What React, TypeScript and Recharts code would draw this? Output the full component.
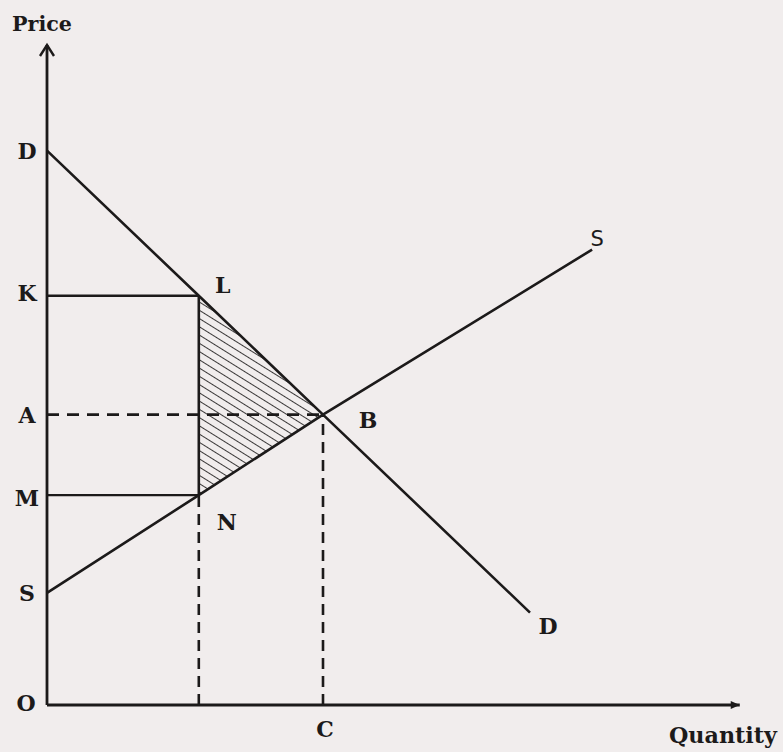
import { ComposedChart, Line, Area, XAxis, YAxis, ReferenceLine, ReferenceDot } from 'recharts';

const quantities = [0, 22, 40, 70, 79];
const demandPrices = [84, 62, 44, 14, null];
const supplyPrices = [17, 31.8, 44, null, 69];
// hatched triangle L-N-B: [low, high] at each quantity
const surplusLow = [null, 31.8, 44, null, null];
const surplusHigh = [null, 62, 44, null, null];

const quotaQty = 22;
const eqQty = 40;
const priceK = 62;
const priceA = 44;
const priceM = 31.8;

const labels = [
  { text: 'Price', q: 0, p: 100, dx: -5, dy: -22, sans: false, fit: 60, size: 21 },
  { text: 'D', q: 0, p: 84, dx: -20, dy: 0, sans: false, fit: 0, size: 22 },
  { text: 'K', q: 0, p: priceK, dx: -20, dy: -3, sans: false, fit: 0, size: 22 },
  { text: 'A', q: 0, p: priceA, dx: -20, dy: 0, sans: false, fit: 0, size: 22 },
  { text: 'M', q: 0, p: priceM, dx: -20, dy: 3, sans: false, fit: 0, size: 22 },
  { text: 'S', q: 0, p: 17, dx: -20, dy: 0, sans: false, fit: 0, size: 22 },
  { text: 'O', q: 0, p: 0, dx: -21, dy: -2, sans: false, fit: 0, size: 22 },
  { text: 'L', q: quotaQty, p: priceK, dx: 24, dy: -11, sans: false, fit: 0, size: 22 },
  { text: 'N', q: quotaQty, p: priceM, dx: 28, dy: 27, sans: false, fit: 0, size: 22 },
  { text: 'B', q: eqQty, p: priceA, dx: 45, dy: 5, sans: false, fit: 0, size: 22 },
  { text: 'C', q: eqQty, p: 0, dx: 2, dy: 24, sans: false, fit: 0, size: 22 },
  { text: 'D', q: 70, p: 14, dx: 18, dy: 13, sans: false, fit: 0, size: 22 },
  { text: 'S', q: 79, p: 69, dx: 5, dy: -11, sans: true, fit: 0, size: 21 },
  { text: 'Quantity', q: 100, p: 0, dx: -14, dy: 30, sans: false, fit: 108, size: 22 },
];

const ink = '#1c1a1a';

const chartData = quantities.map((q, i) => ({
  q,
  demand: demandPrices[i],
  supply: supplyPrices[i],
  band: surplusLow[i] == null ? null : [surplusLow[i], surplusHigh[i]],
}));

const YArrow = (props: any) => {
  const { x1, y1, y2 } = props;
  const top = Math.min(y1, y2);
  const bottom = Math.max(y1, y2);
  return (
    <g>
      <line x1={x1} y1={bottom} x2={x1} y2={top} stroke={ink} strokeWidth={2.8} />
      <path d={`M${x1 - 7},${top + 11} L${x1},${top} L${x1 + 7},${top + 11}`} fill="none" stroke={ink} strokeWidth={2.4} />
    </g>
  );
};

const XArrow = (props: any) => {
  const { x1, y1, x2 } = props;
  const right = Math.max(x1, x2);
  return (
    <g>
      <line x1={Math.min(x1, x2)} y1={y1} x2={right} y2={y1} stroke={ink} strokeWidth={2.8} />
      <path d={`M${right - 9},${y1 - 4} L${right},${y1} L${right - 9},${y1 + 4} Z`} fill={ink} />
    </g>
  );
};

const makeLabel = (text: string, dx: number, dy: number, sans: boolean, fit: number, size: number) => (props: any) => (
  <text
    x={props.cx + dx}
    y={props.cy + dy}
    textAnchor="middle"
    dominantBaseline="central"
    fontFamily={sans ? 'DejaVu Sans' : 'DejaVu Serif'}
    fontWeight={sans ? 'normal' : 'bold'}
    fontSize={size}
    fill={ink}
    {...(fit ? { textLength: fit, lengthAdjust: 'spacingAndGlyphs' } : {})}
  >
    {text}
  </text>
);

export default function App() {
  return (
    <div style={{ position: 'absolute', left: 0, top: 0, width: 783, height: 752, background: '#f1eded' }}>
      <ComposedChart
        width={783}
        height={752}
        data={chartData}
        margin={{ top: 45, right: 46, bottom: 47, left: 47 }}
      >
        <defs>
          <pattern id="hatch" patternUnits="userSpaceOnUse" width="7" height="7" patternTransform="rotate(32)">
            <line x1="0" y1="3.5" x2="7" y2="3.5" stroke="#3a3838" strokeWidth={1} />
          </pattern>
        </defs>
        <XAxis type="number" dataKey="q" domain={[0, 100]} hide />
        <YAxis type="number" domain={[0, 100]} hide />

        <Area
          dataKey="band"
          type="linear"
          fill="url(#hatch)"
          fillOpacity={1}
          stroke="none"
          isAnimationActive={false}
        />

        {/* axes */}
        <ReferenceLine segment={[{ x: 0, y: 0 }, { x: 0, y: 100 }]} shape={YArrow} ifOverflow="visible" />
        <ReferenceLine segment={[{ x: 0, y: 0 }, { x: 100.4, y: 0 }]} shape={XArrow} ifOverflow="visible" />

        {/* guide lines */}
        <ReferenceLine segment={[{ x: 0, y: priceK }, { x: quotaQty, y: priceK }]} stroke={ink} strokeWidth={2.4} />
        <ReferenceLine segment={[{ x: 0, y: priceM }, { x: quotaQty, y: priceM }]} stroke={ink} strokeWidth={2.4} />
        <ReferenceLine segment={[{ x: quotaQty, y: priceM }, { x: quotaQty, y: priceK }]} stroke={ink} strokeWidth={2.6} />
        <ReferenceLine segment={[{ x: quotaQty, y: 0 }, { x: quotaQty, y: priceM }]} stroke={ink} strokeWidth={2.6} strokeDasharray="11 7" />
        <ReferenceLine segment={[{ x: 0, y: priceA }, { x: eqQty, y: priceA }]} stroke={ink} strokeWidth={2.6} strokeDasharray="12 8" />
        <ReferenceLine segment={[{ x: eqQty, y: 0 }, { x: eqQty, y: priceA }]} stroke={ink} strokeWidth={2.6} strokeDasharray="11 7" />

        <Line dataKey="demand" type="linear" stroke={ink} strokeWidth={2.6} dot={false} connectNulls isAnimationActive={false} />
        <Line dataKey="supply" type="linear" stroke={ink} strokeWidth={2.6} dot={false} connectNulls isAnimationActive={false} />

        {labels.map((l, i) => (
          <ReferenceDot
            key={i}
            x={l.q}
            y={l.p}
            r={0}
            ifOverflow="visible"
            shape={makeLabel(l.text, l.dx, l.dy, l.sans, l.fit, l.size)}
          />
        ))}
      </ComposedChart>
    </div>
  );
}
